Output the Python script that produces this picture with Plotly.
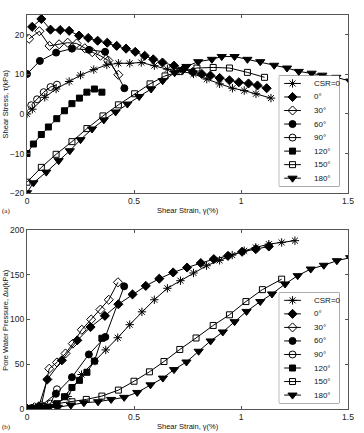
import plotly.graph_objects as go

# ---------------- data ----------------
series_names = ["CSR=0", "0°", "30°", "60°", "90°", "120°", "150°", "180°"]

# (a) shear stress tau (kPa) vs shear strain gamma (%)
tau_csr0_x = [0.0, 0.025, 0.083, 0.136, 0.197, 0.25, 0.312, 0.373, 0.427, 0.48, 0.534, 0.595,
              0.656, 0.71, 0.778, 0.84, 0.9, 0.96, 1.015, 1.07, 1.14]
tau_csr0_y = [0.0, 1.2, 4.2, 6.3, 8.2, 9.8, 11.2, 12.4, 12.8, 12.8, 13.0, 12.2,
              11.3, 10.9, 10.1, 8.8, 7.6, 6.5, 5.9, 5.1, 4.0]
tau_0_x = [0.024, 0.067, 0.11, 0.155, 0.197, 0.243, 0.286, 0.33, 0.375, 0.419, 0.463, 0.506,
           0.55, 0.59, 0.633, 0.687, 0.73, 0.775, 0.817, 0.857, 0.9, 0.946, 0.99, 1.035, 1.077, 1.12]
tau_0_y = [22.0, 24.0, 21.3, 21.2, 21.0, 19.8, 19.2, 18.5, 18.0, 17.2, 16.5, 15.7,
           14.7, 13.8, 13.0, 12.2, 11.3, 10.6, 10.1, 9.7, 9.1, 8.5, 8.0, 7.7, 7.2, 6.5]
tau_30_x = [0.01, 0.058, 0.105, 0.15, 0.19, 0.232, 0.27, 0.305, 0.343, 0.38, 0.427]
tau_30_y = [19.0, 20.9, 17.2, 17.6, 18.0, 17.8, 16.6, 15.6, 14.7, 13.5, 9.9]
tau_60_x = [0.0, 0.06, 0.136, 0.21, 0.29, 0.365, 0.455]
tau_60_y = [10.1, 13.4, 15.5, 16.5, 16.2, 15.7, 6.5]
tau_90_x = [0.02, 0.047, 0.078, 0.11, 0.14]
tau_90_y = [2.2, 3.7, 5.5, 6.8, 7.4]
tau_120_x = [0.0, 0.03, 0.067, 0.1, 0.139, 0.175, 0.21, 0.245, 0.28, 0.315, 0.35]
tau_120_y = [-10.0, -7.6, -5.2, -3.3, -1.2, 0.8, 2.6, 4.0, 5.5, 6.3, 5.5]
tau_150_x = [0.0, 0.067, 0.136, 0.21, 0.28, 0.355, 0.427, 0.503, 0.575, 0.645, 0.714, 0.794,
             0.87, 0.946, 1.03, 1.11]
tau_150_y = [-17.25, -13.5, -10.2, -7.0, -3.7, -0.5, 2.3, 5.1, 7.6, 9.6, 10.7, 11.6,
             11.75, 11.6, 10.5, 9.25]
tau_180_x = [0.0, 0.03, 0.09, 0.148, 0.2, 0.25, 0.304, 0.359, 0.414, 0.469, 0.524, 0.58, 0.634,
             0.69, 0.745, 0.8, 0.864, 0.91, 0.97, 1.03, 1.09, 1.155, 1.215, 1.27, 1.33, 1.38,
             1.445, 1.51]
tau_180_y = [-19.9, -17.4, -14.7, -11.8, -9.3, -6.5, -3.8, -1.5, 0.5, 2.5, 4.4, 6.3, 8.4,
             10.4, 12.0, 13.2, 13.8, 14.5, 14.5, 13.8, 13.2, 12.3, 11.6, 10.75, 10.3, 9.8,
             9.25, 8.3]

# (b) pore water pressure du (kPa) vs shear strain gamma (%)
du_csr0_x = [0.0, 0.03, 0.07, 0.13, 0.19, 0.255, 0.317, 0.368, 0.424, 0.48, 0.537, 0.595,
             0.656, 0.717, 0.778, 0.839, 0.9, 0.959, 1.015, 1.069, 1.13, 1.19, 1.252]
du_csr0_y = [0.0, 0.5, 1.5, 4.5, 14.0, 38.5, 53.5, 66.0, 79.6, 94.2, 108.5, 122.0,
             134.8, 143.3, 151.9, 160.0, 166.0, 171.9, 176.7, 180.4, 184.1, 186.0, 188.0]
du_0_x = [0.0, 0.025, 0.055, 0.095, 0.163, 0.235, 0.297, 0.364, 0.427, 0.493, 0.555, 0.618,
          0.683, 0.748, 0.812, 0.873, 0.939, 1.005, 1.069, 1.13]
du_0_y = [0.0, 0.5, 3.0, 33.0, 54.4, 76.7, 91.5, 104.0, 117.0, 128.0, 137.5, 145.5,
          152.5, 158.0, 163.0, 167.4, 171.0, 175.6, 178.5, 181.5]
du_30_x = [0.0, 0.035, 0.067, 0.104, 0.14, 0.18, 0.214, 0.256, 0.3, 0.343, 0.382, 0.425]
du_30_y = [0.5, 2.0, 4.0, 45.0, 52.0, 62.0, 73.0, 88.5, 100.0, 111.0, 122.0, 141.5]
du_60_x = [0.0, 0.06, 0.135, 0.21, 0.289, 0.366, 0.454]
du_60_y = [0.5, 2.5, 17.0, 35.5, 61.0, 80.5, 137.0]
du_90_x = [0.0, 0.02, 0.047, 0.078, 0.11, 0.14]
du_90_y = [0.5, 1.0, 1.5, 3.0, 6.0, 22.0]
du_120_x = [0.0, 0.03, 0.067, 0.1, 0.139, 0.175, 0.21, 0.245, 0.28, 0.315, 0.35]
du_120_y = [0.0, 0.5, 1.0, 2.0, 5.0, 13.7, 24.0, 32.0, 41.0, 53.5, 79.0]
du_150_x = [0.0, 0.07, 0.14, 0.21, 0.277, 0.35, 0.427, 0.5, 0.572, 0.64, 0.714, 0.79, 0.87,
            0.946, 1.023, 1.1, 1.19]
du_150_y = [0.0, 2.5, 6.0, 8.1, 10.7, 14.4, 21.1, 31.0, 41.5, 53.0, 66.5, 79.3, 93.3,
            105.2, 120.0, 133.3, 145.0]
du_180_x = [0.0, 0.04, 0.085, 0.144, 0.205, 0.266, 0.332, 0.393, 0.454, 0.515, 0.577, 0.635,
            0.687, 0.745, 0.802, 0.858, 0.915, 0.97, 1.026, 1.09, 1.145, 1.206, 1.265, 1.326,
            1.387, 1.448, 1.51]
du_180_y = [0.0, 0.5, 1.0, 1.9, 4.4, 7.0, 8.1, 10.7, 13.0, 18.5, 27.0, 34.5,
            44.0, 52.5, 64.5, 76.0, 86.0, 97.5, 109.0, 120.0, 128.5, 139.6, 148.9, 156.3,
            160.5, 165.6, 169.0]

x_ticks = [0, 0.5, 1, 1.5]
x_ticktext = ["0", "0.5", "1", "1.5"]
tau_ticks = [-20, -10, 0, 10, 20]
du_ticks = [0, 50, 100, 150, 200]

# ---------------- layout helpers ----------------
W, H = 364, 433
ML, MR, MT, MB = 27, 10, 13, 24
PW = W - ML - MR
PH = H - MT - MB


def px2x(px):
    return (px - ML) / PW


def py2y(py):
    return (H - MB - py) / PH


FONT = "Arial, Liberation Sans, sans-serif"
marker_styles = [
    dict(symbol="asterisk-open", size=7),
    dict(symbol="diamond", size=7),
    dict(symbol="diamond-open", size=7),
    dict(symbol="circle", size=7),
    dict(symbol="circle-open", size=7),
    dict(symbol="square", size=6),
    dict(symbol="square-open", size=6),
    dict(symbol="triangle-down", size=8),
]

tau_data = [(tau_csr0_x, tau_csr0_y), (tau_0_x, tau_0_y), (tau_30_x, tau_30_y),
            (tau_60_x, tau_60_y), (tau_90_x, tau_90_y), (tau_120_x, tau_120_y),
            (tau_150_x, tau_150_y), (tau_180_x, tau_180_y)]
du_data = [(du_csr0_x, du_csr0_y), (du_0_x, du_0_y), (du_30_x, du_30_y),
           (du_60_x, du_60_y), (du_90_x, du_90_y), (du_120_x, du_120_y),
           (du_150_x, du_150_y), (du_180_x, du_180_y)]

fig = go.Figure()


def add_series(data, xa, ya):
    for (xs, ys), ms in zip(data, marker_styles):
        fig.add_trace(go.Scatter(
            x=xs, y=ys, mode="lines+markers", xaxis=xa, yaxis=ya,
            line=dict(color="black", width=1),
            marker=dict(symbol=ms["symbol"], size=ms["size"], color="black",
                        line=dict(color="black", width=1)),
            showlegend=False, hoverinfo="skip"))


add_series(tau_data, "x", "y")
add_series(du_data, "x2", "y2")

# ---------------- hand-made compact legends ----------------
LEG_W, LEG_H = 61, 111
ROW0, ROW_STEP = 7.8, 13.6
legend_boxes = {"3": 74, "4": 292}   # top edge (px) of legend boxes
shapes = []
annotations = []
for key, top in legend_boxes.items():
    shapes.append(dict(type="rect", xref="paper", yref="paper", layer="below",
                       x0=px2x(284), x1=px2x(284 + LEG_W),
                       y0=py2y(top + LEG_H), y1=py2y(top),
                       line=dict(color="#666", width=1), fillcolor="white"))
    for i, (name, ms) in enumerate(zip(series_names, marker_styles)):
        yi = ROW0 + ROW_STEP * i
        fig.add_trace(go.Scatter(
            x=[5, 13.5, 22], y=[yi, yi, yi], mode="lines+markers",
            xaxis="x" + key, yaxis="y" + key,
            line=dict(color="black", width=1),
            marker=dict(symbol=ms["symbol"], size=ms["size"], color="black",
                        opacity=[0, 1, 0], line=dict(color="black", width=1)),
            showlegend=False, hoverinfo="skip"))
        annotations.append(dict(text=name, xref="x" + key, yref="y" + key, x=33, y=yi,
                                xanchor="left", yanchor="middle", showarrow=False,
                                font=dict(size=8, color="#111", family=FONT)))

# axis titles and panel labels
title_font = dict(size=7.5, color="#111", family=FONT)
annotations += [
    dict(text="Shear Strain, γ(%)", xref="paper", yref="paper", x=0.5, y=py2y(209),
         xanchor="center", yanchor="middle", showarrow=False, font=title_font),
    dict(text="Shear Strain, γ(%)", xref="paper", yref="paper", x=0.5, y=py2y(427),
         xanchor="center", yanchor="middle", showarrow=False, font=title_font),
    dict(text="Shear Stress, τ(kPa)", xref="paper", yref="paper", x=px2x(5), y=py2y(102.5),
         xanchor="center", yanchor="middle", textangle=-90, showarrow=False, font=title_font),
    dict(text="Pore Water Pressure, Δu(kPa)", xref="paper", yref="paper", x=px2x(5),
         y=py2y(319), xanchor="center", yanchor="middle", textangle=-90, showarrow=False,
         font=title_font),
    dict(text="(a)", xref="paper", yref="paper", x=px2x(0), y=py2y(210), xanchor="left",
         yanchor="middle", showarrow=False,
         font=dict(size=7, color="#111", family="Liberation Serif, serif")),
    dict(text="(b)", xref="paper", yref="paper", x=px2x(0), y=py2y(427), xanchor="left",
         yanchor="middle", showarrow=False,
         font=dict(size=7, color="#111", family="Liberation Serif, serif")),
]

axis_common = dict(showline=True, linecolor="#555", linewidth=1, mirror="ticks",
                   ticks="inside", ticklen=3, tickcolor="#555", showgrid=False,
                   zeroline=False, tickfont=dict(size=8.5, color="#222", family=FONT),
                   fixedrange=True)
hidden = dict(visible=False, fixedrange=True, showgrid=False, zeroline=False)

fig.update_layout(
    width=W, height=H, margin=dict(l=ML, r=MR, t=MT, b=MB),
    paper_bgcolor="white", plot_bgcolor="white", showlegend=False,
    xaxis=dict(domain=[0, 1], anchor="y", range=[0, 1.5], tickvals=x_ticks,
               ticktext=x_ticktext, **axis_common),
    yaxis=dict(domain=[py2y(192), 1], anchor="x", range=[-20, 25], tickvals=tau_ticks,
               **axis_common),
    xaxis2=dict(domain=[0, 1], anchor="y2", range=[0, 1.5], tickvals=x_ticks,
                ticktext=x_ticktext, **axis_common),
    yaxis2=dict(domain=[0, py2y(229)], anchor="x2", range=[0, 200], tickvals=du_ticks,
                **axis_common),
    xaxis3=dict(domain=[px2x(284), px2x(284 + LEG_W)], anchor="y3", range=[0, LEG_W], **hidden),
    yaxis3=dict(domain=[py2y(74 + LEG_H), py2y(74)], anchor="x3", range=[LEG_H, 0], **hidden),
    xaxis4=dict(domain=[px2x(284), px2x(284 + LEG_W)], anchor="y4", range=[0, LEG_W], **hidden),
    yaxis4=dict(domain=[py2y(292 + LEG_H), py2y(292)], anchor="x4", range=[LEG_H, 0], **hidden),
    shapes=shapes, annotations=annotations,
)

fig.write_html("out.html")
